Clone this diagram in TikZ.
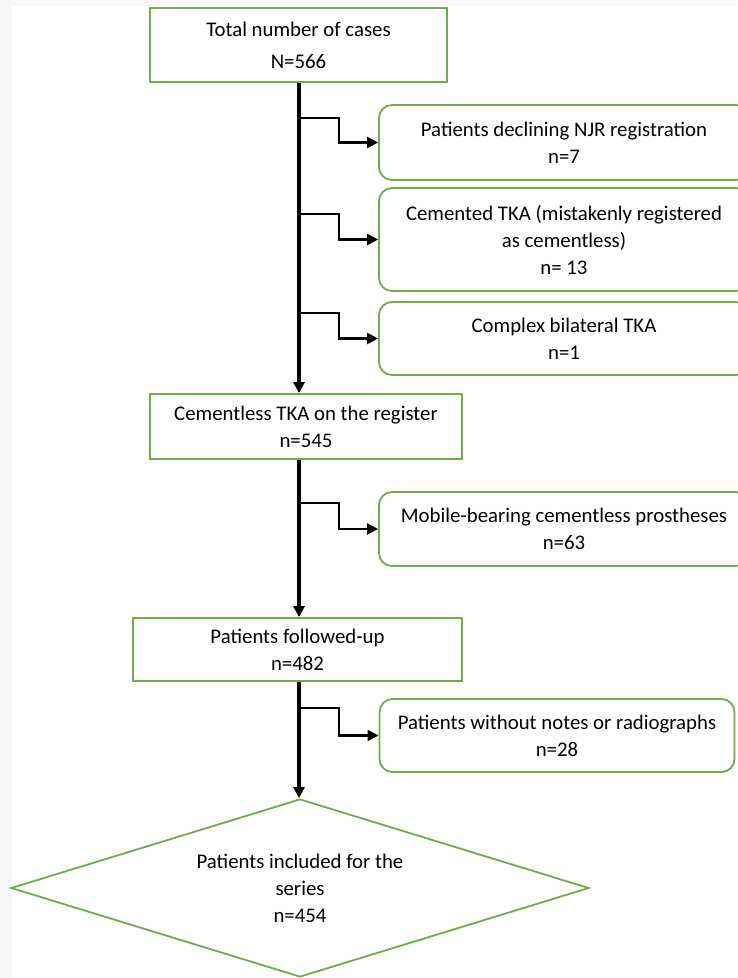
\documentclass[tikz,border=0pt]{standalone}
\usepackage{fontspec}
\setmainfont{Carlito}
\usetikzlibrary{arrows.meta, shapes.geometric}

\definecolor{boxgreen}{HTML}{70AD47}
\definecolor{pagegray}{HTML}{F8F7F7}

\begin{document}
\begin{tikzpicture}[
    x=1pt, y=-1pt,
    box/.style={rectangle, draw=boxgreen, line width=1.8pt, inner sep=0pt, align=center,
        font=\fontsize{20.8}{27}\selectfont},
    sidebox/.style={box, rounded corners=13pt},
    endbox/.style={diamond, draw=boxgreen, line width=1.8pt, inner sep=0pt, aspect=3.25, align=center,
        font=\fontsize{20.8}{27}\selectfont},
    mainline/.style={-{Triangle[length=11pt, width=11pt]}, line width=3.4pt},
    branch/.style={-{Triangle[length=11pt, width=11pt]}, line width=2.2pt}
]

% Page
\useasboundingbox (0,0) rectangle (737,978);
\fill[pagegray] (0,0) rectangle (737,978);
\fill[white] (12,6) rectangle (737,978);

% Main steps
\node[box, minimum width=297, minimum height=74, font=\fontsize{20.8}{32}\selectfont] (total) at (298.5,45)
    {Total number of cases\\N=566};
\node[box, minimum width=312, minimum height=65] (cementless) at (306,426.5)
    {Cementless TKA on the register\\n=545};
\node[box, minimum width=329, minimum height=63] (followed) at (297.5,649.5)
    {Patients followed-up\\n=482};
\node[endbox, minimum width=578, minimum height=178] (included) at (300,888)
    {Patients included for the\\series\\n=454};

% Exclusions
\node[sidebox, minimum width=370, minimum height=75] (declining) at (564,142.5)
    {Patients declining NJR registration\\n=7};
\node[sidebox, minimum width=370, minimum height=103] (cemented) at (564,239.5)
    {Cemented TKA (mistakenly registered\\as cementless)\\n= 13};
\node[sidebox, minimum width=370, minimum height=73] (bilateral) at (564,338.5)
    {Complex bilateral TKA\\n=1};
\node[sidebox, minimum width=370, minimum height=74] (mobile) at (564,529)
    {Mobile-bearing cementless prostheses\\n=63};
\node[sidebox, minimum width=355, minimum height=73] (nonotes) at (557,735.5)
    {Patients without notes or radiographs\\n=28};

% Branch points on the main line
\coordinate (b1) at (299,118);
\coordinate (b2) at (299,214);
\coordinate (b3) at (299,313);
\coordinate (b4) at (299,503);
\coordinate (b5) at (299,708);

% Main line
\draw[mainline] (b1 |- total.south) -- (b1 |- cementless.north);
\draw[mainline] (b1 |- cementless.south) -- (b1 |- followed.north);
\draw[mainline] (b1 |- followed.south) -- (b1 |- included.north);

% Branches
\draw[branch] (b1) -- ++(40,0) |- (declining.west);
\draw[branch] (b2) -- ++(40,0) |- (cemented.west);
\draw[branch] (b3) -- ++(40,0) |- (bilateral.west);
\draw[branch] (b4) -- ++(40,0) |- (mobile.west);
\draw[branch] (b5) -- ++(40,0) |- (nonotes.west);

\end{tikzpicture}
\end{document}
